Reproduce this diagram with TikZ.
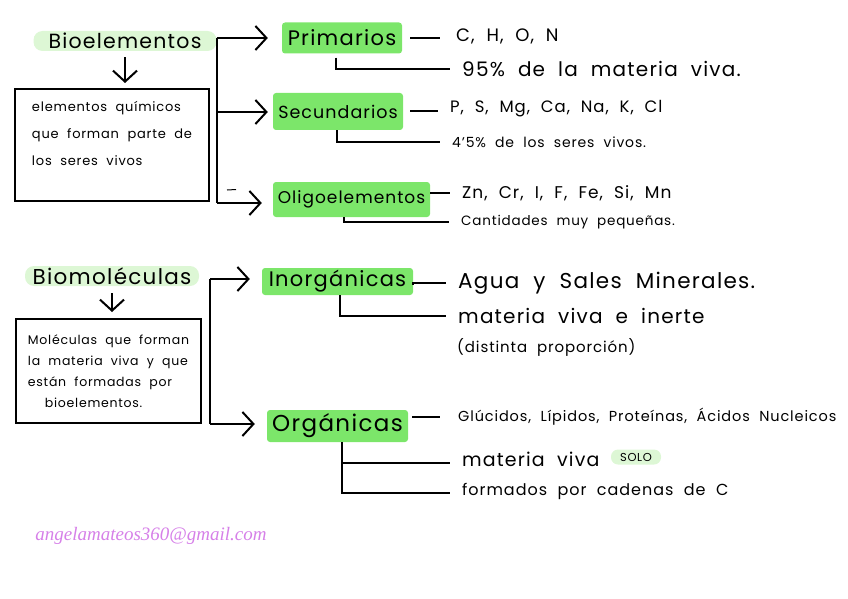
\documentclass[tikz,border=0pt]{standalone}
\usepackage{fontspec}
\setmainfont{Poppins}[LetterSpace=6,WordSpace=2]
\newfontfamily\mailfont{Liberation Serif}
\usetikzlibrary{arrows.meta,calc}
\definecolor{marker}{RGB}{124,230,106}
\definecolor{softgreen}{RGB}{221,247,213}
\definecolor{mailpink}{RGB}{214,128,232}

\begin{document}
\begin{tikzpicture}[x=1pt,y=-1pt,
  link/.style={line width=2pt},
  arr/.style={link,-{Straight Barb[length=11pt,width=24pt]}},
  topic/.style={fill=softgreen,rounded corners=9pt,inner sep=0pt},
  hl/.style={fill=marker,rounded corners=3pt,inner sep=0pt},
  defbox/.style={draw,line width=2pt,align=left,inner sep=0pt},
  detail/.style={anchor=west,inner xsep=12pt,inner ysep=0pt}]
  \useasboundingbox (0,0) rectangle (848,599);
  % Bioelementos
  \node[topic,minimum width=183pt,minimum height=20pt,font=\fontsize{20.5}{20.5}\selectfont] (bio) at (125,41) {Bioelementos};
  \node[defbox,minimum width=194pt,minimum height=112pt,text depth=23pt,font=\fontsize{13}{27}\selectfont] (bioDef) at (112,145)
    {elementos químicos\\que forman parte de\\los seres vivos};
  \draw[arr,shorten <=6pt,shorten >=5pt] (bio.south) -- (bio.south |- bioDef.north);
  \node[hl,minimum width=120pt,minimum height=31pt,font=\fontsize{21}{21}\selectfont] (prim) at (342,38) {Primarios};
  \node[hl,minimum width=130pt,minimum height=37pt,font=\fontsize{17.5}{17.5}\selectfont] (sec) at (338,111.5) {Secundarios};
  \node[hl,minimum width=157pt,minimum height=35pt,font=\fontsize{17}{17}\selectfont] (oli) at (351.5,199.5) {Oligoelementos};
  \coordinate (j1) at (217,38);
  \coordinate (j2) at (217,112);
  \coordinate (j3) at (217,203);
  \draw[link] (j1) -- (j3);
  \draw[link] (bio.east |- j1) -- (j1);
  \draw[arr,shorten >=14pt] (j1) -- (j1 -| prim.west);
  \draw[arr,shorten >=5pt] (j2) -- (j2 -| sec.west);
  \draw[arr,shorten >=11pt] (j3) -- (j3 -| oli.west);
  \draw[line width=1pt] (227,190) -- (236,189.5);
  % details
  \node[detail,font=\fontsize{18}{18}\selectfont] (primA) at (444,36) {C, H, O, N};
  \node[detail,font=\fontsize{20}{20}\selectfont] (primB) at (450,69) {95\% de la materia viva.};
  \node[detail,font=\fontsize{16.5}{16.5}\selectfont] (secA) at (438,109) {P, S, Mg, Ca, Na, K, Cl};
  \node[detail,font=\fontsize{14}{14}\selectfont] (secB) at (440,142) {4'5\% de los seres vivos.};
  \node[detail,font=\fontsize{17}{17}\selectfont] (oliA) at (450,193) {Zn, Cr, I, F, Fe, Si, Mn};
  \node[detail,font=\fontsize{13.5}{13.5}\selectfont] (oliB) at (449,222) {Cantidades muy pequeñas.};
  \draw[link,shorten <=8pt,shorten >=4pt] (prim.east) -- (primA.west |- prim.east);
  \draw[link,shorten <=4pt] ([xshift=-6pt]prim.south) |- (primB.west);
  \draw[link,shorten <=7pt] (sec.east) -- (secA.west |- sec.east);
  \draw[link] ([xshift=-1pt]sec.south) |- (secB.west);
  \draw[link] (oli.east |- oliA.west) -- (oliA.west);
  \draw[link] ([xshift=-7.5pt]oli.south) |- (oliB.west);

  % Biomoleculas
  \node[topic,minimum width=174pt,minimum height=20pt,font=\fontsize{21.5}{21.5}\selectfont] (biom) at (112,276) {Biomoléculas};
  \node[defbox,minimum width=185pt,minimum height=104pt,font=\fontsize{12.5}{21}\selectfont] (biomDef) at (108.5,371)
    {Moléculas que forman\\la materia viva y que\\están formadas por\\\hspace*{17pt}bioelementos.};
  \draw[arr,shorten <=7pt,shorten >=6pt] (biom.south) -- (biom.south |- biomDef.north);
  \node[hl,minimum width=151pt,minimum height=27pt,font=\fontsize{21}{21}\selectfont] (inorg) at (337.5,281.5) {Inorgánicas};
  \node[hl,minimum width=141pt,minimum height=32pt,font=\fontsize{23}{23}\selectfont] (org) at (337.5,426) {Orgánicas};
  \coordinate (k1) at (210,279);
  \coordinate (k2) at (210,424);
  \draw[link] (k1) -- (k2);
  \draw[arr,shorten >=12pt] (k1) -- (k1 -| inorg.west);
  \draw[arr,shorten >=12pt] (k2) -- (k2 -| org.west);
  % details
  \node[detail,font=\fontsize{21.5}{21.5}\selectfont] (inorgA) at (446,283) {Agua y Sales Minerales.};
  \node[detail,font=\fontsize{20}{20}\selectfont] (inorgB) at (446,316) {materia viva e inerte};
  \node[detail,font=\fontsize{15}{15}\selectfont] (inorgC) at (445,347) {(distinta proporción)};
  \draw[link,shorten <=3pt] (inorg.east) -- (inorgA.west -| inorg.east) -- (inorgA.west);
  \draw[link] ([xshift=2.5pt]inorg.south) |- (inorgB.west);
  \node[detail,font=\fontsize{14.5}{14.5}\selectfont] (orgA) at (446,417) {Glúcidos, Lípidos, Proteínas, Ácidos Nucleicos};
  \node[detail,font=\fontsize{19}{19}\selectfont] (orgB) at (450,459) {materia viva};
  \node[topic,rounded corners=7pt,minimum width=50pt,minimum height=15pt,font=\fontsize{11.5}{11.5}\selectfont] (solo) at (636,457) {SOLO};
  \node[detail,font=\fontsize{16}{16}\selectfont] (orgC) at (450,491) {formados por cadenas de C};
  \draw[link,shorten <=4pt,shorten >=6pt] (org.east |- orgA.west) -- (orgA.west);
  \draw[link] ([xshift=4.5pt]org.south) |- ([yshift=-4pt]orgB.west);
  \draw[link] ([xshift=4.5pt]org.south) |- ([yshift=-2pt]orgC.west);

  % firma
  \node[font=\mailfont\itshape\fontsize{19}{19}\selectfont,text=mailpink] (mail) at (151,536) {angelamateos360@gmail.com};
\end{tikzpicture}
\end{document}
